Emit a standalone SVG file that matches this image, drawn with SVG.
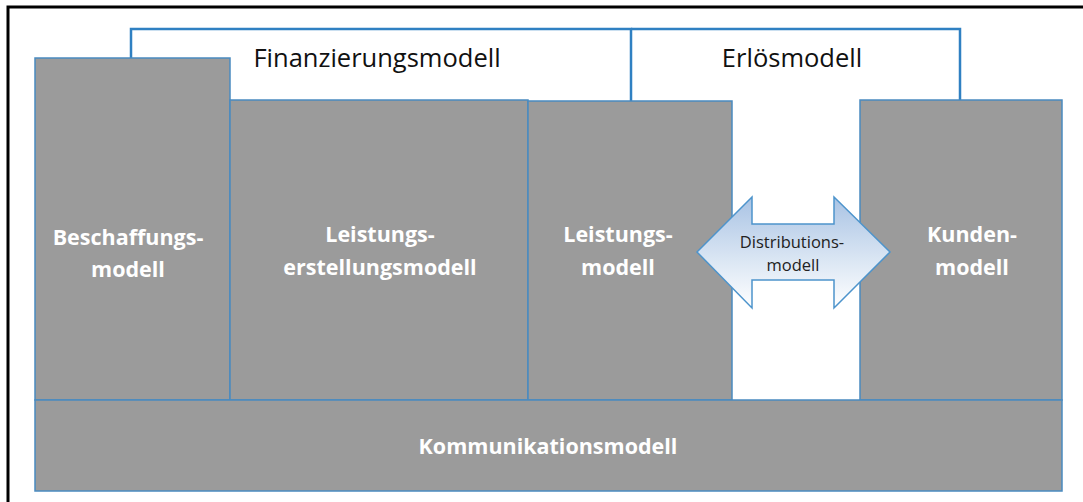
<svg xmlns="http://www.w3.org/2000/svg" width="1083" height="502" viewBox="0 0 1083 502">
  <defs>
    <linearGradient id="distFill" x1="0" y1="0" x2="0" y2="1">
      <stop offset="0" stop-color="#a9c3e4"/>
      <stop offset="0.55" stop-color="#d9e5f3"/>
      <stop offset="1" stop-color="#ffffff"/>
    </linearGradient>
    <style>
      .box { fill: #9b9b9b; stroke: #4a8bc0; stroke-width: 1.5; }
      .bracket { fill: none; stroke: #2f80c2; stroke-width: 2.5; }
      .lbl { font-family: "Open Sans", "Liberation Sans", sans-serif; font-weight: bold; font-size: 21.5px; fill: #ffffff; text-anchor: middle; }
      .top { font-family: "Open Sans", "Liberation Sans", sans-serif; font-size: 25.5px; fill: #111111; text-anchor: middle; }
      .dist { font-family: "Open Sans", "Liberation Sans", sans-serif; font-size: 16.5px; fill: #222222; text-anchor: middle; }
    </style>
  </defs>
  <rect width="1083" height="502" fill="#ffffff"/>
  <!-- outer frame -->
  <path d="M8,502 V7 H1083" fill="none" stroke="#000000" stroke-width="3"/>

  <!-- brackets for the financing and revenue models -->
  <g id="finanzierungsmodell">
    <path class="bracket" d="M131,58 V29 H631 V101"/>
    <text class="top" x="377" y="67">Finanzierungsmodell</text>
  </g>
  <g id="erloesmodell">
    <path class="bracket" d="M631,29 H960 V100"/>
    <text class="top" x="792" y="67">Erlösmodell</text>
  </g>

  <g id="beschaffungsmodell">
    <rect class="box" x="35" y="58" width="195" height="342"/>
    <text class="lbl" x="128" y="245">Beschaffungs-</text>
    <text class="lbl" x="128" y="277">modell</text>
  </g>
  <g id="leistungserstellungsmodell">
    <rect class="box" x="230" y="100" width="298" height="300"/>
    <text class="lbl" x="380" y="242">Leistungs-</text>
    <text class="lbl" x="380" y="275">erstellungsmodell</text>
  </g>
  <g id="leistungsmodell">
    <rect class="box" x="528" y="101" width="204" height="299"/>
    <text class="lbl" x="618" y="242">Leistungs-</text>
    <text class="lbl" x="618" y="275">modell</text>
  </g>
  <g id="kundenmodell">
    <rect class="box" x="860" y="100" width="202" height="300"/>
    <text class="lbl" x="972" y="242">Kunden-</text>
    <text class="lbl" x="972" y="275">modell</text>
  </g>
  <g id="kommunikationsmodell">
    <rect class="box" x="35" y="400" width="1027" height="91"/>
    <text class="lbl" x="548" y="454">Kommunikationsmodell</text>
  </g>

  <g id="connectors">
    <g id="distributionsmodell">
      <path d="M697,252 L752,197 V224 H834 V197 L890,252 L834,308 V280 H752 V308 Z" fill="url(#distFill)" stroke="#4d94cc" stroke-width="1.5"/>
      <text class="dist" x="792" y="248">Distributions-</text>
      <text class="dist" x="793" y="271">modell</text>
    </g>
  </g>
</svg>
